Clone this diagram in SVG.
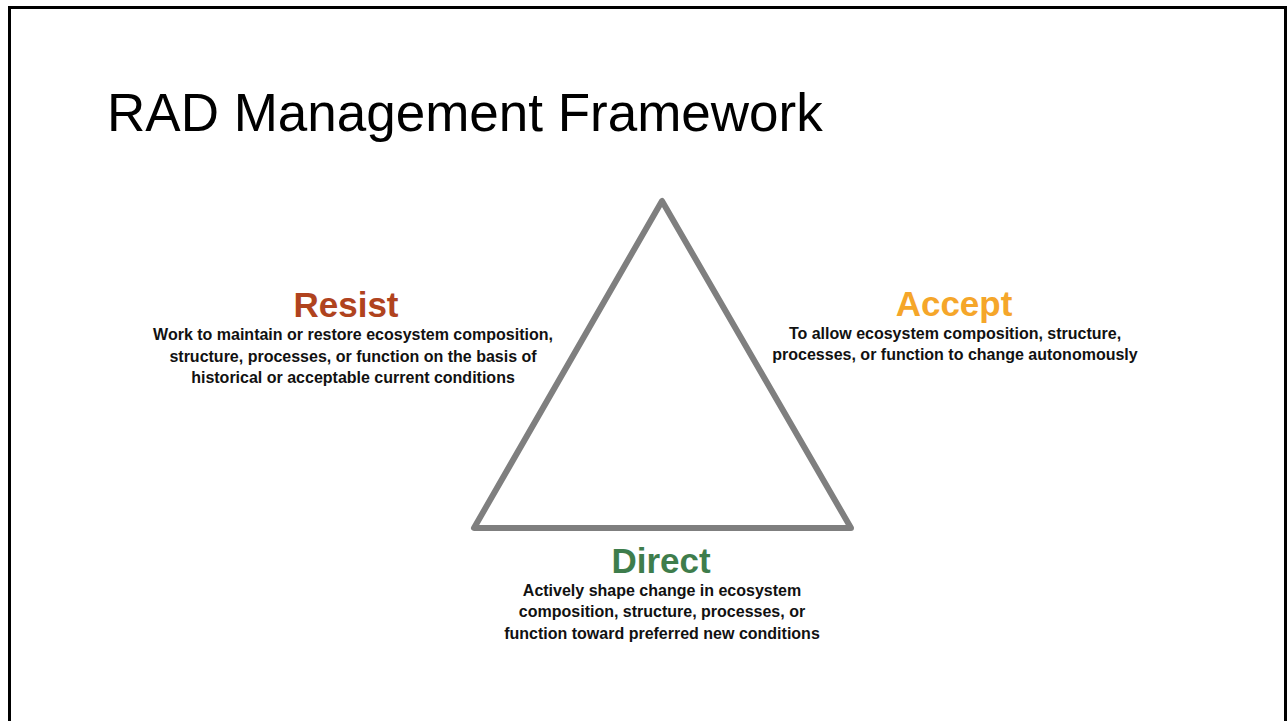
<svg xmlns="http://www.w3.org/2000/svg" width="1288" height="721" viewBox="0 0 1288 721">
<style>
.head{font-family:"Liberation Sans",Arial,sans-serif;font-size:35px;font-weight:bold;text-anchor:middle}
.body{font-family:"Liberation Sans",Arial,sans-serif;font-size:16px;font-weight:bold;fill:#111;text-anchor:middle}
</style>
<rect x="0" y="0" width="1288" height="721" fill="#fff"/>
<rect x="9.5" y="7.5" width="1276" height="740" fill="none" stroke="#000" stroke-width="3"/>
<text x="107" y="131" font-family="'Liberation Sans',Arial,sans-serif" font-size="53" fill="#000">RAD Management Framework</text>
<g id="connectors">
<polygon points="662,201 474,528 851,528" fill="none" stroke="#7f7f7f" stroke-width="6" stroke-linejoin="round"/>
</g>
<g id="resist">
<text class="head" x="346" y="317" fill="#b0431e">Resist</text>
<text class="body" x="353" y="340">Work to maintain or restore ecosystem composition,</text>
<text class="body" x="353" y="362">structure, processes, or function on the basis of</text>
<text class="body" x="353" y="383">historical or acceptable current conditions</text>
</g>
<g id="accept">
<text class="head" x="954" y="316" fill="#f5a62a">Accept</text>
<text class="body" x="955" y="339">To allow ecosystem composition, structure,</text>
<text class="body" x="955" y="360">processes, or function to change autonomously</text>
</g>
<g id="direct">
<text class="head" x="661" y="573" fill="#3e7d4c">Direct</text>
<text class="body" x="662" y="596">Actively shape change in ecosystem</text>
<text class="body" x="662" y="617">composition, structure, processes, or</text>
<text class="body" x="662" y="639">function toward preferred new conditions</text>
</g>
</svg>
